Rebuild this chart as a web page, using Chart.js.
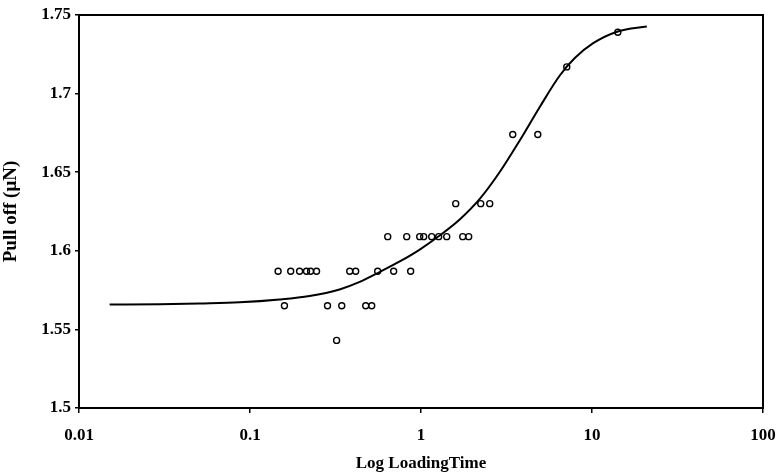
<!DOCTYPE html>
<html>
<head>
<meta charset="utf-8">
<script src="https://cdn.jsdelivr.net/npm/chart.js@4/dist/chart.umd.min.js"></script>
<style>
html,body{margin:0;padding:0;background:#fff;}
#wrap{width:778px;height:474px;position:relative;}
</style>
</head>
<body>
<div id="wrap"><canvas id="c" width="778" height="474"></canvas></div>
<script>
// Measured points (loading time, pull-off force)
const timeValues = [
  0.146, 0.173, 0.195, 0.214, 0.226, 0.245, 0.383, 0.415, 0.558, 0.692, 0.870,
  0.159, 0.284, 0.344, 0.475, 0.515,
  0.321,
  0.639, 0.825, 0.983, 1.037, 1.155, 1.269, 1.414, 1.754, 1.901,
  1.596, 2.235, 2.523,
  3.44, 4.82,
  7.12,
  14.16
];
const pullOffValues = [
  1.587, 1.587, 1.587, 1.587, 1.587, 1.587, 1.587, 1.587, 1.587, 1.587, 1.587,
  1.565, 1.565, 1.565, 1.565, 1.565,
  1.543,
  1.609, 1.609, 1.609, 1.609, 1.609, 1.609, 1.609, 1.609, 1.609,
  1.630, 1.630, 1.630,
  1.674, 1.674,
  1.717,
  1.739
];
// Fitted curve
const fitTime = [0.0151, 0.0296, 0.0507, 0.0870, 0.149, 0.223, 0.334, 0.438, 0.573, 0.751, 0.983,
                 1.286, 1.684, 2.206, 2.887, 3.780, 4.950, 6.481, 7.934, 10.11, 14.16, 20.92];
const fitPull = [1.5658, 1.5660, 1.5665, 1.5672, 1.5690, 1.5712, 1.5754, 1.5802, 1.5865, 1.5932, 1.6008,
                 1.6097, 1.6199, 1.6330, 1.6501, 1.6702, 1.6915, 1.7115, 1.7226, 1.7319, 1.7395, 1.7427];

const xTickValues = [0.01, 0.1, 1, 10, 100];
const yTickValues = [1.5, 1.55, 1.6, 1.65, 1.7, 1.75];

const FONT = "'Liberation Serif', 'Times New Roman', serif";

const framePlugin = {
  id: 'frame',
  afterDatasetsDraw(chart) {
    const a = chart.chartArea, ctx = chart.ctx;
    ctx.save();
    ctx.strokeStyle = '#000';
    ctx.lineWidth = 2;
    ctx.strokeRect(a.left, a.top, a.right - a.left, a.bottom - a.top);
    ctx.restore();
  }
};

new Chart(document.getElementById('c'), {
  type: 'scatter',
  data: {
    datasets: [
      {
        label: 'fit',
        data: fitTime.map((t, i) => ({x: t, y: fitPull[i]})),
        showLine: true,
        borderColor: '#000',
        borderWidth: 2,
        pointRadius: 0,
        cubicInterpolationMode: 'monotone',
        fill: false
      },
      {
        label: 'measured',
        data: timeValues.map((t, i) => ({x: t, y: pullOffValues[i]})),
        showLine: false,
        pointRadius: 3,
        pointBorderWidth: 1.4,
        pointBorderColor: '#000',
        pointBackgroundColor: 'rgba(255,255,255,0)'
      }
    ]
  },
  options: {
    responsive: false,
    animation: false,
    devicePixelRatio: 1,
    layout: {padding: {left: 0, right: 15, top: 15, bottom: 0}},
    plugins: {legend: {display: false}, tooltip: {enabled: false}},
    scales: {
      x: {
        type: 'logarithmic',
        min: 0.01,
        max: 100,
        afterBuildTicks(scale) { scale.ticks = xTickValues.map(v => ({value: v})); },
        afterFit(scale) { scale.height = 66; scale.paddingRight = 0; scale.paddingLeft = 0; },
        ticks: {
          color: '#000',
          font: {family: FONT, size: 17, weight: 'bold'},
          padding: 12,
          maxRotation: 0,
          autoSkip: false,
          callback: v => String(v)
        },
        grid: {drawOnChartArea: false, drawTicks: true, tickLength: 5, color: '#000', lineWidth: 1.5},
        border: {display: true, color: '#000', width: 2},
        title: {display: true, text: 'Log LoadingTime', color: '#000',
                font: {family: FONT, size: 17, weight: 'bold'}, padding: {top: 0, bottom: 0}}
      },
      y: {
        min: 1.5,
        max: 1.75,
        afterBuildTicks(scale) { scale.ticks = yTickValues.map(v => ({value: v})); },
        afterFit(scale) { scale.width = 79; scale.paddingTop = 0; scale.paddingBottom = 0; },
        ticks: {
          color: '#000',
          font: {family: FONT, size: 17, weight: 'bold'},
          padding: 4,
          callback: v => String(+Number(v).toFixed(2))
        },
        grid: {drawOnChartArea: false, drawTicks: true, tickLength: 4, color: '#000', lineWidth: 1.5},
        border: {display: true, color: '#000', width: 2},
        title: {display: true, text: 'Pull off (μN)', color: '#000',
                font: {family: FONT, size: 19, weight: 'bold'}, padding: {top: 0, bottom: 2}}
      }
    }
  },
  plugins: [framePlugin]
});
</script>
</body>
</html>
